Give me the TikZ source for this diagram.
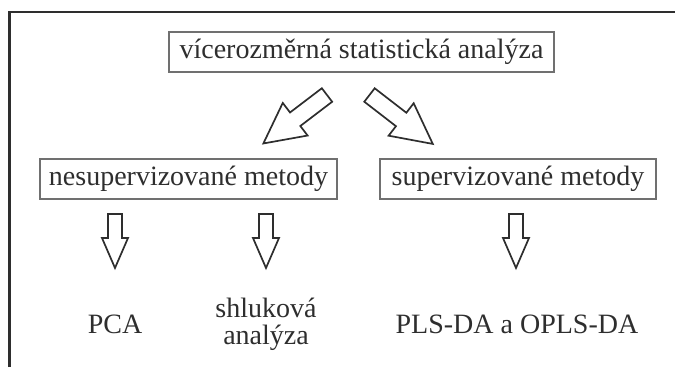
\documentclass[tikz,border=0pt]{standalone}
\usepackage{fontspec}
\setmainfont{Liberation Serif}
\definecolor{txtgray}{HTML}{2E2E2E}
\definecolor{boxgray}{HTML}{707070}
\tikzset{
  methodbox/.style={draw=boxgray,line width=1.3pt,text=txtgray,font=\fontsize{28}{30}\selectfont,inner sep=0pt,minimum height=40pt},
  leaf/.style={text=txtgray,font=\fontsize{28}{27}\selectfont,align=center,inner sep=0pt},
  arrowline/.style={draw=txtgray,line width=1.7pt,line join=miter,fill=white},
  downarrow/.pic={\path[arrowline] (-7,0) -- (7,0) -- (7,24) -- (13,24) -- (0,54) -- (-13,24) -- (-7,24) -- cycle;},
  slantarrow/.pic={\path[arrowline] (-8.5,0) -- (8.5,0) -- (8.5,40) -- (20.5,40) -- (0,80) -- (-20.5,40) -- (-8.5,40) -- cycle;}
}
\begin{document}
\begin{tikzpicture}[x=1pt,y=-1pt]
\useasboundingbox (0,0) rectangle (675,367);
% frame
\draw[draw=txtgray,line width=2.5pt] (9.5,367) -- (9.5,12) -- (675,12);
% boxes
\node[methodbox,minimum width=385pt] (mva) at (361.5,52) {vícerozměrná statistická analýza};
\node[methodbox,minimum width=297pt] (unsup) at (188.5,179) {nesupervizované metody};
\node[methodbox,minimum width=276pt] (sup) at (518,179) {supervizované metody};
% methods
\node[leaf] (pca) at (115,324) {PCA};
\node[leaf] (cluster) at (266,324) {shluková\\analýza};
\node[leaf] (plsda) at (517,324) {PLS-DA a OPLS-DA};
% arrows
\pic[rotate=-52.7] at (327,95) {slantarrow};
\pic[rotate=52.3] at (369.5,95) {slantarrow};
\pic at (115,214) {downarrow};
\pic at (266,214) {downarrow};
\pic at (516,214) {downarrow};
\end{tikzpicture}
\end{document}
